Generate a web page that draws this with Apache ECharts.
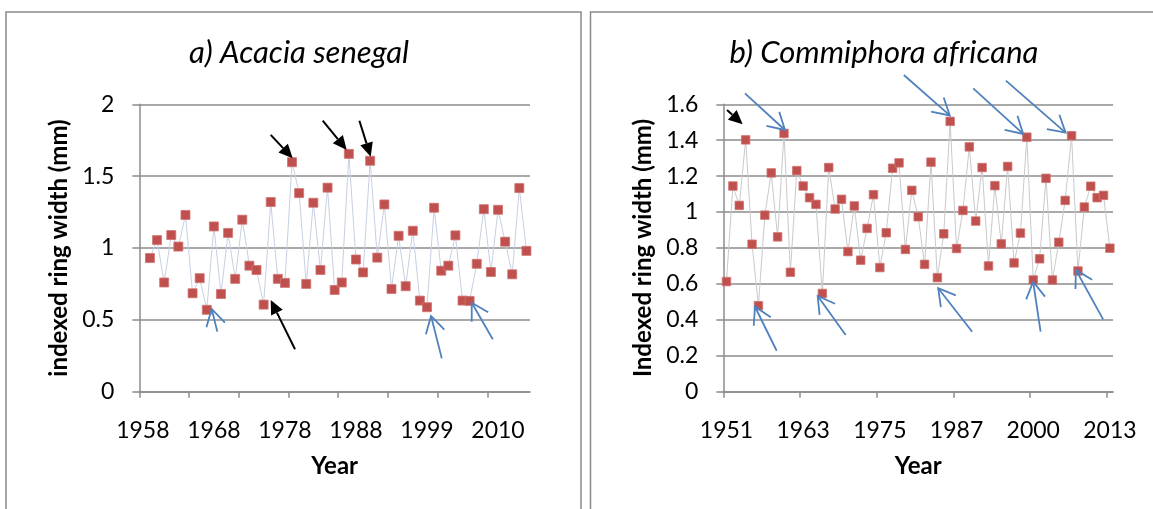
<!DOCTYPE html>
<html>
<head>
<meta charset="utf-8">
<script src="https://cdn.jsdelivr.net/npm/echarts@6/dist/echarts.min.js"></script>
<style>
html,body{margin:0;padding:0;background:#fff;}
#chart{width:1153px;height:509px;}
</style>
</head>
<body>
<div id="chart"></div>
<script>
// ---------- Panel a) Acacia senegal ----------
// ring-width index per category slot (first slot empty)
const acaciaValues = [null,
  0.93, 1.055, 0.76, 1.09, 1.01, 1.23, 0.685, 0.79, 0.57, 1.15,
  0.68, 1.105, 0.785, 1.197, 0.877, 0.847, 0.606, 1.32, 0.785, 0.757,
  1.597, 1.382, 0.75, 1.315, 0.847, 1.42, 0.708, 0.76, 1.655, 0.92,
  0.83, 1.607, 0.933, 1.303, 0.715, 1.085, 0.734, 1.12, 0.634, 0.588,
  1.28, 0.842, 0.877, 1.088, 0.634, 0.632, 0.89, 1.27, 0.833, 1.266,
  1.044, 0.817, 1.417, 0.98];
const acaciaLabelSlots = [0, 10, 20, 30, 40, 50];
const acaciaLabels = ['1958', '1968', '1978', '1988', '1999', '2010'];
const acaciaTickSlots = [0, 7, 14, 21, 28, 35, 42, 49];
// arrows: [x tail, y tail, x tip, y tip, kind] (kind 1 = black filled, 0 = blue open)
const acaciaArrows = [
  [18.50, 1.787, 21.60, 1.624, 1],
  [25.82, 1.886, 29.20, 1.682, 1],
  [30.98, 1.886, 32.58, 1.635, 1],
  [21.92, 0.295, 18.50, 0.638, 1],
  [10.98, 0.418, 10.19, 0.576, 0],
  [42.58, 0.232, 41.07, 0.527, 0],
  [49.76, 0.365, 46.80, 0.619, 0]
];

// ---------- Panel b) Commiphora africana ----------
const commiphoraValues = [
  0.613, 1.145, 1.037, 1.402, 0.821, 0.479, 0.983, 1.218, 0.862, 1.438,
  0.665, 1.231, 1.145, 1.08, 1.043, 0.547, 1.248, 1.017, 1.071, 0.78,
  1.034, 0.732, 0.909, 1.097, 0.691, 0.885, 1.244, 1.274, 0.792, 1.121,
  0.974, 0.709, 1.278, 0.635, 0.879, 1.505, 0.797, 1.009, 1.363, 0.95,
  1.248, 0.7, 1.147, 0.823, 1.254, 0.717, 0.883, 1.417, 0.622, 0.74,
  1.188, 0.622, 0.832, 1.065, 1.425, 0.672, 1.028, 1.144, 1.08, 1.093, 0.799];
const commiphoraLabelSlots = [0, 12, 24, 36, 48, 60];
const commiphoraLabels = ['1951', '1963', '1975', '1987', '2000', '2013'];
const commiphoraTickSlots = [0, 12, 24, 36, 48, 60];
const commiphoraArrows = [
  [0.58, 1.568, 3.03, 1.489, 1],
  [3.39, 1.661, 9.65, 1.457, 0],
  [28.25, 1.763, 35.44, 1.538, 0],
  [39.11, 1.689, 46.93, 1.435, 0],
  [44.22, 1.732, 53.56, 1.442, 0],
  [8.35, 0.228, 4.96, 0.473, 0],
  [19.15, 0.316, 14.77, 0.533, 0],
  [38.95, 0.334, 33.63, 0.576, 0],
  [49.65, 0.334, 48.49, 0.612, 0],
  [59.44, 0.403, 55.17, 0.678, 0]
];

const FONT = 'Lato';
const GRID_GRAY = '#8c8c8c';
const RED = '#C0504D';
const BLUE = '#4F81BD';

function toPoints(values) {
  return values.map((v, i) => [i + 0.5, v]).filter(d => d[1] !== null);
}
function labelFormatter(slots, labels) {
  return function (v) {
    for (let i = 0; i < slots.length; i++) {
      if (Math.abs(slots[i] + 0.5 - v) < 1e-6) return labels[i];
    }
    return '';
  };
}

function arrowRender(params, api) {
  const a = api.coord([api.value(0), api.value(1)]);
  const b = api.coord([api.value(2), api.value(3)]);
  const kind = api.value(4);
  const dx = b[0] - a[0], dy = b[1] - a[1];
  const len = Math.sqrt(dx * dx + dy * dy);
  const ux = dx / len, uy = dy / len;
  const children = [];
  if (kind === 1) {
    const hl = 14, hw = 6.5;
    const bx = b[0] - ux * hl, by = b[1] - uy * hl;
    children.push({type: 'line', shape: {x1: a[0], y1: a[1], x2: bx, y2: by},
      style: {stroke: '#000', lineWidth: 2}});
    children.push({type: 'polygon', shape: {points: [
      [b[0], b[1]],
      [bx - uy * hw, by + ux * hw],
      [bx + uy * hw, by - ux * hw]
    ]}, style: {fill: '#000'}});
  } else {
    const bl = 19, ang = Math.PI / 6;
    const rx = -ux, ry = -uy;
    const c = Math.cos(ang), s = Math.sin(ang);
    const p1 = [b[0] + bl * (rx * c - ry * s), b[1] + bl * (rx * s + ry * c)];
    const p2 = [b[0] + bl * (rx * c + ry * s), b[1] + bl * (-rx * s + ry * c)];
    children.push({type: 'line', shape: {x1: a[0], y1: a[1], x2: b[0], y2: b[1]},
      style: {stroke: BLUE, lineWidth: 1.8}});
    children.push({type: 'polyline', shape: {points: [p1, [b[0], b[1]], p2]},
      style: {stroke: BLUE, lineWidth: 1.8, fill: null}});
  }
  return {type: 'group', children: children};
}

function xAxisFor(gridIndex, max, tickSlots, labelSlots, labels) {
  return {
    type: 'value', gridIndex: gridIndex, min: 0, max: max,
    axisLine: {show: true, onZero: false, lineStyle: {color: GRID_GRAY, width: 1.5}},
    axisTick: {show: true, length: 6, customValues: tickSlots,
      lineStyle: {color: GRID_GRAY, width: 1.5}},
    axisLabel: {show: true, customValues: labelSlots.map(s => s + 0.5),
      formatter: labelFormatter(labelSlots, labels),
      fontFamily: FONT, fontSize: 23, color: '#000', margin: 27},
    splitLine: {show: false},
    name: 'Year', nameLocation: 'middle', nameGap: 63,
    nameTextStyle: {fontFamily: FONT, fontSize: 24, fontWeight: 'bold', color: '#000'}
  };
}
function yAxisFor(gridIndex, max, interval, name) {
  return {
    type: 'value', gridIndex: gridIndex, min: 0, max: max, interval: interval,
    axisLine: {show: true, lineStyle: {color: GRID_GRAY, width: 1.5}},
    axisTick: {show: true, length: 7, lineStyle: {color: GRID_GRAY, width: 1.5}},
    axisLabel: {fontFamily: FONT, fontSize: 23, color: '#000', margin: 25},
    splitLine: {show: true, lineStyle: {color: GRID_GRAY, width: 1.5}},
    name: name, nameLocation: 'middle', nameGap: 68, nameRotate: 90,
    nameTextStyle: {fontFamily: FONT, fontSize: 24, fontWeight: 'bold', color: '#000'}
  };
}

const chart = echarts.init(document.getElementById('chart'), null, {renderer: 'canvas'});
chart.setOption({
  animation: false,
  backgroundColor: '#fff',
  title: [
    {text: 'a) Acacia senegal', left: 294, top: 32, textAlign: 'center',
      textStyle: {fontFamily: FONT, fontSize: 31, fontStyle: 'italic', fontWeight: 'normal', color: '#000'}},
    {text: 'b) Commiphora africana', left: 879, top: 32, textAlign: 'center',
      textStyle: {fontFamily: FONT, fontSize: 31, fontStyle: 'italic', fontWeight: 'normal', color: '#000'}}
  ],
  graphic: [
    {type: 'rect', shape: {x: 6, y: 12, width: 575, height: 540},
      style: {fill: null, stroke: '#8a8a8a', lineWidth: 1.5}, z: -1},
    {type: 'rect', shape: {x: 590.5, y: 12, width: 600, height: 540},
      style: {fill: null, stroke: '#8a8a8a', lineWidth: 1.5}, z: -1}
  ],
  grid: [
    {left: 139.3, top: 104.3, width: 390.7, height: 287.4, outerBoundsMode: 'none', containLabel: false},
    {left: 723.3, top: 104.3, width: 389.8, height: 287.4, outerBoundsMode: 'none', containLabel: false}
  ],
  xAxis: [
    xAxisFor(0, 55, acaciaTickSlots, acaciaLabelSlots, acaciaLabels),
    xAxisFor(1, 61, commiphoraTickSlots, commiphoraLabelSlots, commiphoraLabels)
  ],
  yAxis: [
    yAxisFor(0, 2, 0.5, 'indexed ring width (mm)'),
    yAxisFor(1, 1.6, 0.2, 'Indexed ring width (mm)')
  ],
  series: [
    {type: 'line', xAxisIndex: 0, yAxisIndex: 0, data: toPoints(acaciaValues),
      symbol: 'rect', symbolSize: 9,
      itemStyle: {color: RED, borderColor: '#cf7472', borderWidth: 0.8},
      lineStyle: {color: '#c7d0e2', width: 1}, z: 3},
    {type: 'line', xAxisIndex: 1, yAxisIndex: 1, data: toPoints(commiphoraValues),
      symbol: 'rect', symbolSize: 8.5,
      itemStyle: {color: RED, borderColor: '#cf7472', borderWidth: 0.8},
      lineStyle: {color: '#cacaca', width: 1}, z: 3},
    {type: 'custom', xAxisIndex: 0, yAxisIndex: 0, renderItem: arrowRender,
      data: acaciaArrows, encode: {x: [0, 2], y: [1, 3]}, z: 5, clip: false},
    {type: 'custom', xAxisIndex: 1, yAxisIndex: 1, renderItem: arrowRender,
      data: commiphoraArrows, encode: {x: [0, 2], y: [1, 3]}, z: 5, clip: false}
  ]
});
</script>
</body>
</html>
